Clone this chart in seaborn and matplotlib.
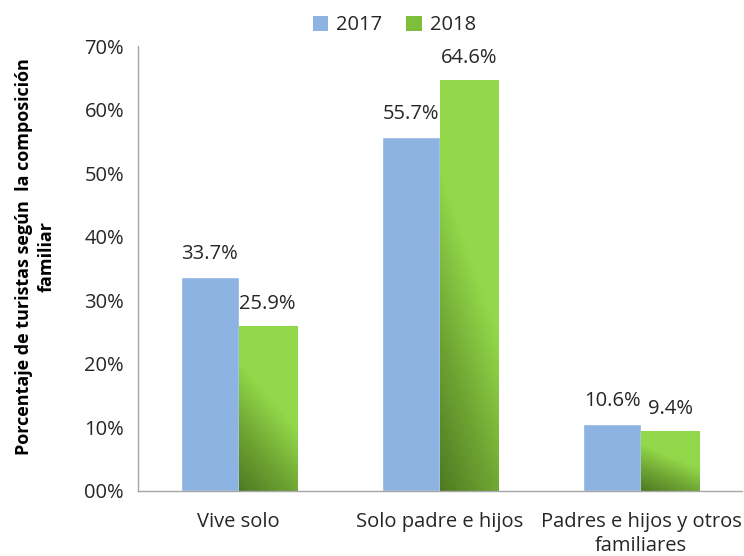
import numpy as np
import pandas as pd
import matplotlib
matplotlib.use("Agg")
import matplotlib.pyplot as plt
import seaborn as sns
from matplotlib.colors import LinearSegmentedColormap
from matplotlib.patches import Patch

categories = ["Vive solo", "Solo padre e hijos", "Padres e hijos y otros\nfamiliares"]
years = ["2017", "2018"]
values_2017 = [33.7, 55.7, 10.6]
values_2018 = [25.9, 64.6, 9.4]
ytick_values = [0, 10, 20, 30, 40, 50, 60, 70]
ytick_labels = ["00%", "10%", "20%", "30%", "40%", "50%", "60%", "70%"]

df = pd.DataFrame({
    "cat": categories * 2,
    "year": [years[0]] * 3 + [years[1]] * 3,
    "val": values_2017 + values_2018,
})

sns.set_theme(style="white")
plt.rcParams["font.family"] = ["Open Sans", "DejaVu Sans"]

blue = "#8DB3E2"
green_light = "#92D84A"
green_dark = "#4E7A22"
fs = 14.5

fig = plt.figure(figsize=(7.44, 5.56), dpi=100)
ax = fig.add_axes([0.1855, 0.117, 0.8115, 0.80])

sns.barplot(data=df, x="cat", y="val", hue="year", order=categories,
            hue_order=years, palette=[blue, green_light], width=0.577,
            ax=ax, legend=False, saturation=1)

ax.set_ylim(0, 70)
ax.set_xlim(-0.5, 2.5)
ax.set_yticks(ytick_values)
ax.set_yticklabels(ytick_labels, fontsize=fs, color="#262626")
ax.tick_params(axis="x", labelsize=fs, colors="#262626", length=0, pad=15)
ax.tick_params(axis="y", length=0, pad=10)
for t in ax.get_xticklabels():
    t.set_linespacing(1.25)
ax.set_xlabel("")
ax.set_ylabel("Porcentaje de turistas según  la composición\nfamiliar",
              fontsize=13, fontweight="bold", color="black", linespacing=1.3)
ax.yaxis.set_label_coords(-0.137, 0.528)

for s in ["top", "right"]:
    ax.spines[s].set_visible(False)
for s in ["left", "bottom"]:
    ax.spines[s].set_color("#a6a6a6")
    ax.spines[s].set_linewidth(1.0)

cmap = LinearSegmentedColormap.from_list("g", [green_dark, "#6FA533", green_light, green_light])
n = 3
bars = ax.patches
blue_bars = bars[:n]
green_bars = bars[n:2 * n]

# diagonal gradient: dark bottom-left, light top-right
gx, gy = np.meshgrid(np.linspace(0, 1, 60), np.linspace(0, 1, 200))
grad = np.clip(0.35 * gx + 0.85 * gy, 0, 1)
for b in green_bars:
    x0, y0 = b.get_x(), b.get_y()
    w, h = b.get_width(), b.get_height()
    b.set_facecolor("none")
    b.set_edgecolor("none")
    im = ax.imshow(grad, cmap=cmap, origin="lower", extent=[x0, x0 + w, y0, y0 + h],
                   aspect="auto", zorder=b.get_zorder(), vmin=0, vmax=1)
    im.set_clip_path(b)

ax.set_xlim(-0.5, 2.5)
ax.set_ylim(0, 70)

for b, v in zip(blue_bars, values_2017):
    ax.text(b.get_x() + b.get_width() / 2, v + 2.0, f"{v:.1f}%", ha="center",
            va="bottom", fontsize=fs, color="#262626")
for b, v in zip(green_bars, values_2018):
    ax.text(b.get_x() + b.get_width() / 2, v + 2.0, f"{v:.1f}%", ha="center",
            va="bottom", fontsize=fs, color="#262626")

handles = [Patch(facecolor=blue, edgecolor="none"), Patch(facecolor="#7DBE3A", edgecolor="none")]
fig.legend(handles, years, loc="upper center", bbox_to_anchor=(0.53, 1.005), ncol=2,
           frameon=False, fontsize=fs, handlelength=0.75, handleheight=0.75,
           handletextpad=0.4, columnspacing=1.2)

fig.savefig("out.png", dpi=100)
